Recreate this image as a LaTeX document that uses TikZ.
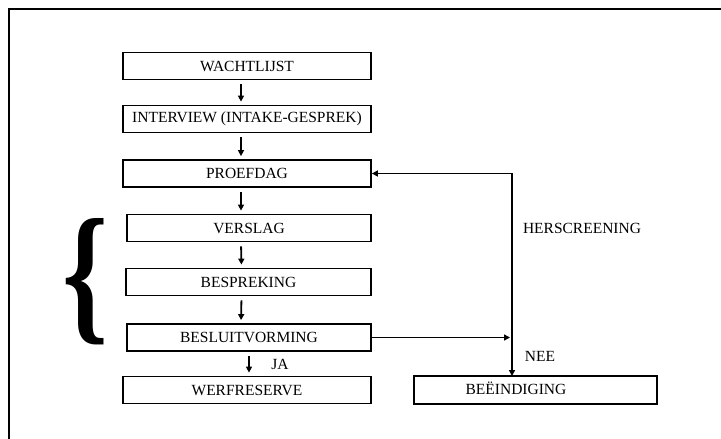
\documentclass[tikz,border=0pt]{standalone}
\usepackage{fontspec}
\setmainfont{Liberation Serif}
\usetikzlibrary{arrows.meta}
\begin{document}
\begin{tikzpicture}[x=1pt,y=-1pt,
  box/.style={draw, line width=1.8pt, minimum width=248pt, minimum height=27pt, inner sep=0pt, font=\fontsize{15.5}{17}\selectfont},
  lbl/.style={inner sep=0pt, font=\fontsize{15.5}{17}\selectfont},
  arr/.style={line width=1.8pt, -{Triangle[length=6pt,width=6pt]}},
  dblarr/.style={line width=1.8pt, {Triangle[length=6pt,width=6pt]}-{Triangle[length=6pt,width=6pt]}}]
\useasboundingbox (0,0) rectangle (721,439);
\clip (0,0) rectangle (721,439);
\draw[line width=2.5pt] (9,9) rectangle (760,480);
\node[box] (wacht) at (247,66) {WACHTLIJST};
\node[box] (interview) at (247,119) {INTERVIEW (INTAKE-GESPREK)};
\node[box] (proefdag) at (247,173.5) {PROEFDAG};
\node[box, minimum width=244pt] (verslag) at (249,228) {VERSLAG};
\node[box, minimum width=245pt] (bespreking) at (248.5,282) {BESPREKING};
\node[box, minimum width=244pt] (besluit) at (249,337.5) {BESLUITVORMING};
\node[box] (werf) at (247,390) {WERFRESERVE};
\node[box, minimum width=243pt, minimum height=28pt] (beeind) at (535.5,390) {};
\node[lbl] (beeindtxt) at (516,388) {BEËINDIGING};
\node[inner sep=0pt] (brace) at (86,282) {\resizebox{46pt}{106pt}{\textbf{\{}}};
\node[lbl] (hers) at (582,228) {HERSCREENING};
\node[lbl] (nee) at (540,356) {NEE};
\node[lbl] (ja) at (280,364) {JA};
\draw[arr, shorten <=4pt, shorten >=3pt] ([xshift=-6pt]wacht.south) -- ([xshift=-6pt]interview.north);
\draw[arr, shorten <=4pt, shorten >=3pt] ([xshift=-6pt]interview.south) -- ([xshift=-6pt]proefdag.north);
\draw[arr, shorten <=4pt, shorten >=3pt] ([xshift=-6pt]proefdag.south) -- ([xshift=-8pt]verslag.north);
\draw[arr, shorten <=4pt, shorten >=3pt] ([xshift=-8pt]verslag.south) -- ([xshift=-7pt]bespreking.north);
\draw[arr, shorten <=4pt, shorten >=3pt] ([xshift=-7pt]bespreking.south) -- ([xshift=-8pt]besluit.north);
\draw[arr, shorten <=4pt, shorten >=3pt] ([xshift=0pt]besluit.south) -- ([xshift=2pt]werf.north);
\coordinate (vl) at (512,337.5);
\coordinate (vb) at (512,376);
\draw[arr, shorten >=2pt] (besluit.east) -- (vl);
\draw[dblarr] (proefdag.east) -| (vb);
\end{tikzpicture}
\end{document}
